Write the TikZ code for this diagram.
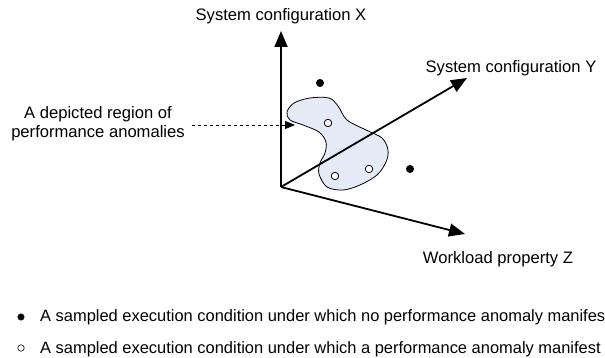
\documentclass[tikz,border=0pt]{standalone}
\usepackage{fontspec}
\setmainfont{Liberation Sans}
\usetikzlibrary{arrows.meta, positioning}
\definecolor{regionblue}{RGB}{228,234,246}
\tikzset{
	axis/.style={line width=1.8pt, -{Triangle[length=16pt, width=13pt]}},
	axislabel/.style={inner sep=0pt, anchor=base, font=\fontsize{16.6}{19}\selectfont},
	legendtext/.style={inner sep=0pt, anchor=base west, font=\fontsize{16.45}{19}\selectfont},
	% sampled conditions
	normal/.style={draw, circle, fill=black, inner sep=0pt, minimum size=7.5pt},
	anomaly/.style={draw, circle, fill=white, line width=0.8pt, inner sep=0pt, minimum size=7.5pt},
	region/.style={draw, fill=regionblue, line width=0.8pt},
}

\begin{document}
\begin{tikzpicture}[x=1pt, y=-1pt]
	\useasboundingbox (0,0) rectangle (605,358);
	
	\coordinate (o) at (281,187);
	\coordinate (xtip) at (281,31);
	\coordinate (ytip) at (467,78);
	\coordinate (ztip) at (465,234);
	\coordinate (regtip) at (295,125);
	
	\node (xlab) [axislabel] at (281,21) {System configuration X};
	\node (ylab) [axislabel] at (511,73) {System configuration Y};
	\node (zlab) [axislabel] at (498,263) {Workload property Z};
	\node (depicted) [axislabel, align=center] at (98,138) {A depicted region of\\performance anomalies};
	
	% region of anomalies
	\draw [region] plot [smooth cycle, tension=0.55] coordinates {
		(287,112) (294,103) (310,98) (329,98) (338,106) (347,120)
		(366,130) (382,138) (388,150) (386,162) (377,175) (360,185)
		(343,190) (327,187) (319,174) (320,163) (325,153) (326,142)
		(319,132) (303,125) (290,120)};
	
	\begin{scope}[black]
		\draw [axis] (o) -- (xtip);
		\draw [axis] (o) -- (ytip);
		\draw [axis] (o) -- (ztip);
		\draw [dashed, line width=0.8pt, -{Triangle[length=10pt, width=8pt]}] (192,125) -- (regtip);
	\end{scope}
	
	\node (n1) [normal] at (320,83) {};
	\node (n2) [normal] at (410,169) {};
	\node (a1) [anomaly] at (328,123) {};
	\node (a2) [anomaly] at (335,176) {};
	\node (a3) [anomaly] at (369,169) {};
	
	% legend
	\node (legnormal) [normal, minimum size=6.5pt] at (21,317) {};
	\node (legnormaltext) [legendtext] at (40,321) {A sampled execution condition under which no performance anomaly manifes};
	\node (leganomaly) [anomaly, minimum size=6.5pt, line width=0.6pt] at (21,348) {};
	\node (leganomalytext) [legendtext] at (40,353) {A sampled execution condition under which a performance anomaly manifest};
\end{tikzpicture}
\end{document}
